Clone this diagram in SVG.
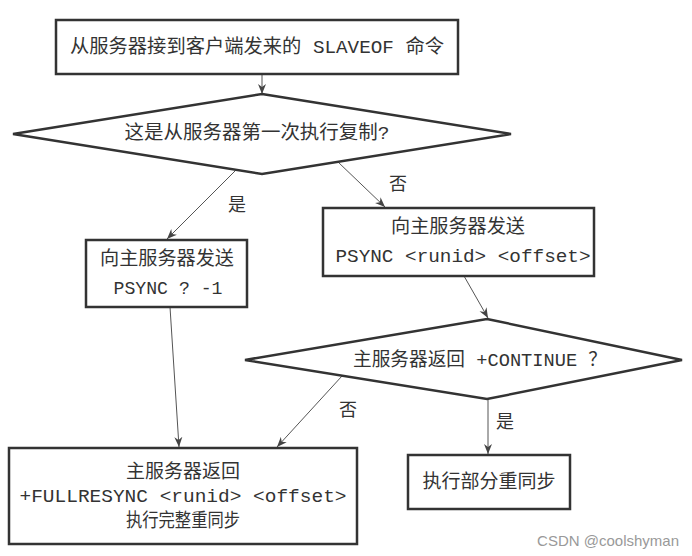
<svg xmlns="http://www.w3.org/2000/svg" width="692" height="556" viewBox="0 0 692 556">
<defs>
<style>
.box{fill:#fff;stroke:#333;stroke-width:2.5}
.dia{fill:#fff;stroke:#333;stroke-width:2.5;stroke-linejoin:miter}
.con{stroke:#555;stroke-width:1;fill:none;marker-end:url(#ah)}
.t{font-family:"Liberation Mono","Noto Sans CJK SC",monospace;font-size:19px;fill:#333;text-anchor:middle;dominant-baseline:central}
.c{font-family:"Liberation Serif","Noto Sans CJK SC",serif;font-size:18px;fill:#333;text-anchor:middle;dominant-baseline:central}
.wm{font-family:"Liberation Sans","Noto Sans",sans-serif;font-size:15px;fill:#999;text-anchor:end;dominant-baseline:central}
</style>
<marker id="ah" viewBox="0 0 10 10" refX="10" refY="5" markerWidth="10" markerHeight="10" markerUnits="userSpaceOnUse" orient="auto">
<path d="M0,1 L10,5 L0,9 L3,5 Z" fill="#444"/>
</marker>
</defs>
<rect width="692" height="556" fill="#fff"/>
<g id="connectors">
<line class="con" x1="262" y1="74" x2="262" y2="94"/>
<line class="con" x1="236" y1="170" x2="167" y2="239"/>
<line class="con" x1="338" y1="162" x2="385" y2="207"/>
<line class="con" x1="464" y1="276" x2="488" y2="318"/>
<line class="con" x1="170" y1="307" x2="179" y2="447"/>
<line class="con" x1="342" y1="376" x2="277" y2="447"/>
<line class="con" x1="488" y1="399" x2="488" y2="454"/>
<text class="c" x="237" y="205">是</text>
<text class="c" x="398" y="184">否</text>
<text class="c" x="348" y="410">否</text>
<text class="c" x="505" y="422">是</text>
</g>
<g id="start">
<rect class="box" x="56" y="20" width="402" height="54"/>
<text class="t" x="257" y="48" textLength="374" lengthAdjust="spacingAndGlyphs">从服务器接到客户端发来的 SLAVEOF 命令</text>
</g>
<g id="decision1">
<polygon class="dia" points="262,94 511,134 262,174 13,134"/>
<text class="t" x="257" y="134" textLength="265" lengthAdjust="spacingAndGlyphs">这是从服务器第一次执行复制?</text>
</g>
<g id="psync-full">
<rect class="box" x="86" y="240" width="161" height="67"/>
<text class="t" x="167" y="260" textLength="134" lengthAdjust="spacingAndGlyphs">向主服务器发送</text>
<text class="t" x="168" y="289" textLength="109" lengthAdjust="spacingAndGlyphs">PSYNC ? -1</text>
</g>
<g id="psync-partial">
<rect class="box" x="323" y="208" width="271" height="68"/>
<text class="t" x="458" y="228" textLength="134" lengthAdjust="spacingAndGlyphs">向主服务器发送</text>
<text class="t" x="463" y="257" textLength="255" lengthAdjust="spacingAndGlyphs">PSYNC &lt;runid&gt; &lt;offset&gt;</text>
</g>
<g id="decision2">
<polygon class="dia" points="487,319 682,360 487,399 245,360"/>
<text class="t" x="480" y="361" textLength="254" lengthAdjust="spacingAndGlyphs">主服务器返回 +CONTINUE ？</text>
</g>
<g id="fullresync">
<rect class="box" x="9" y="448" width="348" height="96"/>
<text class="t" x="183" y="473" textLength="114" lengthAdjust="spacingAndGlyphs">主服务器返回</text>
<text class="t" x="183" y="497" textLength="327" lengthAdjust="spacingAndGlyphs">+FULLRESYNC &lt;runid&gt; &lt;offset&gt;</text>
<text class="t" x="183" y="522" textLength="114" lengthAdjust="spacingAndGlyphs">执行完整重同步</text>
</g>
<g id="partial">
<rect class="box" x="408" y="455" width="162" height="54"/>
<text class="t" x="489" y="483" textLength="133" lengthAdjust="spacingAndGlyphs">执行部分重同步</text>
</g>
<text class="wm" x="679" y="540">CSDN @coolshyman</text>
</svg>
